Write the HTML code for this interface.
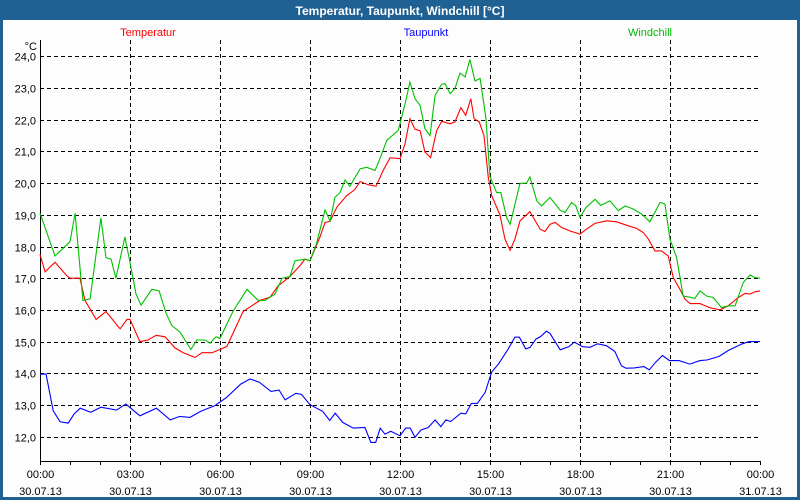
<!DOCTYPE html>
<html><head><meta charset="utf-8"><style>
html,body{margin:0;padding:0;background:#fff}
#frame{position:relative;width:800px;height:500px;background:#1f6192;overflow:hidden}
svg{position:absolute;left:0;top:0}
text{font-family:"Liberation Sans",sans-serif}
</style></head><body>
<div id="frame">
<svg id="chart" width="800" height="500">
  <rect x="3" y="20" width="794" height="477" fill="#fdfdfd"/>
  <text x="400" y="15" fill="#fff" font-size="12" font-weight="bold" text-anchor="middle">Temperatur, Taupunkt, Windchill [°C]</text>
  <text x="148" y="36" fill="#ff0000" font-size="11" text-anchor="middle">Temperatur</text>
  <text x="426" y="36" fill="#0000ff" font-size="11" text-anchor="middle">Taupunkt</text>
  <text x="650" y="36" fill="#00bb00" font-size="11" text-anchor="middle">Windchill</text>
  <text x="37" y="50" fill="#000" font-size="11" text-anchor="end">°C</text>
  <g id="grid"></g><g id="axes"></g><g id="series"></g>
</svg>
</div>
<script>
const yTicks=[12,13,14,15,16,17,18,19,20,21,22,23,24];
const xTickHours=[0,3,6,9,12,15,18,21,24];
const xTickTimes=["00:00","03:00","06:00","09:00","12:00","15:00","18:00","21:00","00:00"];
const xTickDates=["30.07.13","30.07.13","30.07.13","30.07.13","30.07.13","30.07.13","30.07.13","30.07.13","31.07.13"];

const tempHours=[0,0.17,0.5,0.87,1.0,1.33,1.5,1.87,2.2,2.67,2.9,3.0,3.33,3.6,3.87,4.17,4.5,4.77,5.17,5.4,5.73,6.0,6.23,6.77,7.33,7.67,7.93,8.33,8.67,8.83,9.0,9.33,9.5,9.67,9.9,10.22,10.5,10.67,10.94,11.2,11.44,11.67,12.0,12.17,12.33,12.5,12.67,12.83,13.02,13.22,13.39,13.67,13.83,14.03,14.19,14.36,14.47,14.64,14.8,14.94,15.06,15.33,15.5,15.67,15.83,16.0,16.33,16.67,16.83,17.0,17.17,17.39,17.67,18.0,18.22,18.5,18.89,19.22,19.56,19.89,20.11,20.28,20.5,20.72,20.94,21.11,21.33,21.5,21.67,22.0,22.33,22.67,22.94,23.28,23.5,23.67,23.83,24];
const tempValues=[17.75,17.2,17.5,17.1,17.0,17.0,16.3,15.7,15.95,15.4,15.7,15.7,15.0,15.05,15.2,15.15,14.8,14.65,14.5,14.65,14.65,14.75,14.85,15.95,16.3,16.4,16.75,17.05,17.4,17.6,17.55,18.3,18.75,18.8,19.25,19.6,19.8,20.05,19.95,19.9,20.4,20.8,20.77,21.25,22.03,21.7,21.65,20.98,20.8,21.65,21.95,21.87,21.93,22.38,22.14,22.66,22.03,21.93,21.5,20.2,19.6,19.0,18.23,17.88,18.23,18.81,19.1,18.55,18.47,18.7,18.76,18.6,18.49,18.39,18.55,18.73,18.81,18.78,18.67,18.57,18.44,18.23,17.86,17.86,17.7,17.02,16.65,16.34,16.2,16.2,16.07,16.0,16.13,16.39,16.52,16.5,16.57,16.6];

const chillHours=[0,0.5,1.0,1.17,1.43,1.67,2.03,2.2,2.37,2.53,2.83,3.0,3.2,3.37,3.73,3.97,4.2,4.4,4.67,5.03,5.23,5.5,5.67,5.87,6.0,6.43,6.9,7.27,7.5,7.83,8.07,8.33,8.5,8.83,9.0,9.22,9.5,9.67,9.83,10.0,10.17,10.33,10.67,10.89,11.17,11.33,11.56,11.94,12.17,12.33,12.5,12.67,12.83,13.0,13.17,13.39,13.5,13.67,13.83,14.0,14.17,14.33,14.5,14.67,14.86,15.0,15.22,15.36,15.56,15.67,16.0,16.22,16.33,16.56,16.72,17.0,17.33,17.5,17.72,17.86,18.0,18.2,18.5,18.69,19.0,19.28,19.5,19.78,20.06,20.33,20.67,20.83,21.0,21.22,21.44,21.67,21.83,22.0,22.22,22.44,22.72,22.94,23.17,23.44,23.67,23.83,24];
const chillValues=[19.05,17.7,18.15,19.05,16.3,16.35,18.9,17.65,17.6,17.0,18.3,17.5,16.5,16.15,16.65,16.6,15.9,15.5,15.3,14.75,15.05,15.05,14.95,15.15,15.1,15.95,16.65,16.3,16.3,16.5,17.0,17.05,17.55,17.6,17.55,18.1,19.15,18.8,19.55,19.7,20.1,19.9,20.45,20.5,20.4,20.77,21.35,21.66,22.5,23.19,22.66,22.45,21.72,21.5,22.77,23.12,23.14,22.82,22.98,23.47,23.35,23.9,23.22,23.3,22.08,20.2,19.7,19.7,18.9,18.7,19.99,20.0,20.2,19.44,19.28,19.55,19.15,19.07,19.39,19.28,18.92,19.23,19.49,19.3,19.44,19.13,19.28,19.18,19.02,18.78,19.39,19.34,18.23,17.65,16.44,16.4,16.36,16.6,16.44,16.39,16.07,16.13,16.13,16.86,17.1,17.02,17.0];

const dewHours=[0,0.2,0.44,0.67,0.94,1.14,1.34,1.69,2.03,2.55,2.86,3.33,3.88,4.34,4.66,5.0,5.36,5.83,6.22,6.69,7.0,7.31,7.7,7.97,8.17,8.53,8.72,9.0,9.42,9.66,9.84,10.09,10.44,10.83,11.03,11.19,11.34,11.5,11.69,12.0,12.19,12.34,12.5,12.7,12.94,13.17,13.36,13.53,13.69,14.03,14.19,14.38,14.58,14.84,15.05,15.28,15.59,15.83,15.98,16.19,16.34,16.53,16.69,16.88,17.0,17.34,17.63,17.81,18.09,18.33,18.59,18.88,19.16,19.38,19.53,19.81,20.13,20.31,20.52,20.75,20.98,21.3,21.66,22.0,22.23,22.63,22.94,23.41,23.64,24];
const dewValues=[13.97,13.98,12.82,12.47,12.43,12.72,12.9,12.77,12.93,12.84,13.03,12.66,12.9,12.53,12.64,12.61,12.8,12.98,13.24,13.66,13.82,13.72,13.43,13.47,13.16,13.37,13.33,13.01,12.8,12.51,12.74,12.45,12.27,12.29,11.82,11.82,12.27,12.08,12.17,12.03,12.27,12.27,11.98,12.21,12.29,12.53,12.32,12.53,12.48,12.74,12.72,13.05,13.05,13.4,14.03,14.29,14.74,15.14,15.14,14.77,14.82,15.08,15.16,15.33,15.26,14.74,14.84,14.98,14.84,14.82,14.93,14.87,14.69,14.24,14.16,14.17,14.21,14.11,14.35,14.56,14.4,14.4,14.29,14.4,14.42,14.53,14.72,14.93,15.0,15.0];

const NS="http://www.w3.org/2000/svg";
const X0=40,X1=760,YTOP=40,YBOT=461;
function xScale(h){return X0+h*(X1-X0)/24;}
function yScale(v){return 56.3+(24-v)*31.7;}
function mk(tag,attrs,parent){const e=document.createElementNS(NS,tag);for(const k in attrs)e.setAttribute(k,attrs[k]);parent.appendChild(e);return e;}
const grid=document.getElementById('grid'),axes=document.getElementById('axes'),series=document.getElementById('series');

yTicks.forEach(v=>{
  const y=Math.round(yScale(v))+0.5;
  const l=mk('line',{x1:X0,x2:X1,y1:y,y2:y,stroke:'#000','stroke-dasharray':'4,3','stroke-width':1},grid);
  
  
  const t=mk('text',{x:36,y:y+4,'font-size':11,'text-anchor':'end',fill:'#000'},axes);
  t.textContent=v.toFixed(1).replace('.',',');
  
  
});
xTickHours.forEach((h,i)=>{
  const x=Math.round(xScale(h))+0.5;
  if(h>0&&h<24){
    const l=mk('line',{x1:x,x2:x,y1:YTOP,y2:YBOT,stroke:'#000','stroke-dasharray':'4,3','stroke-width':1},grid);
    
    
  }
  const t1=mk('text',{x:x,y:478,'font-size':11,'text-anchor':'middle',fill:'#000'},axes);
  t1.textContent=xTickTimes[i];
  
  
  const t2=mk('text',{x:x,y:495,'font-size':11,'text-anchor':'middle',fill:'#000'},axes);
  t2.textContent=xTickDates[i];
  
  
});
for(let h=0;h<=24;h++){
  const x=Math.round(xScale(h))+0.5;
  const l=mk('line',{x1:x,x2:x,y1:YBOT,y2:YBOT+4,stroke:'#000'},axes);
  
  
}
const ya=mk('line',{x1:X0+0.5,x2:X0+0.5,y1:YTOP,y2:YBOT+1,stroke:'#000','stroke-width':1},axes);


const xa=mk('line',{x1:X0,x2:X1,y1:YBOT+0.5,y2:YBOT+0.5,stroke:'#000','stroke-width':1},axes);



function drawLine(hs,vs,color,name){
  const pts=hs.map((h,i)=>xScale(h).toFixed(1)+','+yScale(vs[i]).toFixed(1)).join(' ');
  const p=mk('polyline',{points:pts,fill:'none',stroke:color,'stroke-width':1.1},series);
  
  
}
drawLine(dewHours,dewValues,'#0000ff','taupunkt-line');
drawLine(tempHours,tempValues,'#ff0000','temperatur-line');
drawLine(chillHours,chillValues,'#00c000','windchill-line');
</script>
</body></html>
